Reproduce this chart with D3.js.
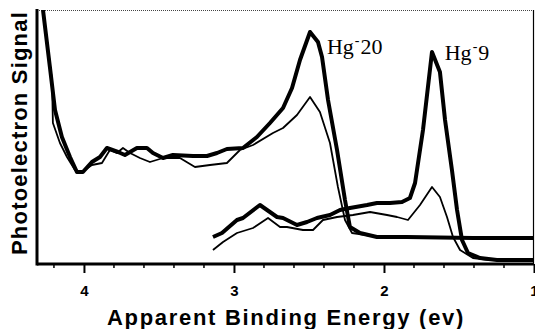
<!DOCTYPE html>
<html>
<head>
<meta charset="utf-8">
<script src="https://cdn.jsdelivr.net/npm/d3@7"></script>
<style>
  html, body { margin: 0; padding: 0; background: #fff; }
  svg { display: block; }
</style>
</head>
<body>
<div id="chart"></div>
<script>
// Binding energy (eV) and signal (arbitrary units)
const hg20BoldE = [4.273, 4.227, 4.193, 4.147, 4.093, 4.047, 4.007, 3.947, 3.893, 3.847, 3.773, 3.727, 3.647, 3.580, 3.540, 3.473, 3.407, 3.273, 3.180, 3.113, 3.047, 2.940, 2.847, 2.760, 2.673, 2.613, 2.560, 2.493, 2.440, 2.413, 2.373, 2.313, 2.260, 2.227, 2.160, 2.047, 1.847, 1.407, 1.0];
const hg20BoldS = [254, 197, 154, 127, 107, 92, 92, 102, 107, 116, 112, 109, 116, 116, 111, 106, 109, 108, 108, 111, 115, 116, 127, 141, 156, 176, 204, 232, 222, 207, 164, 114, 64, 37, 31, 27, 27, 26, 26];

const hg20ThinE = [4.273, 4.213, 4.207, 4.160, 4.113, 4.060, 4.013, 3.947, 3.880, 3.827, 3.780, 3.740, 3.693, 3.627, 3.560, 3.473, 3.360, 3.260, 3.160, 3.047, 2.960, 2.873, 2.740, 2.673, 2.580, 2.493, 2.427, 2.360, 2.307, 2.260, 2.213, 2.073, 1.847, 1.0];
const hg20ThinS = [254, 184, 141, 121, 107, 94, 92, 99, 101, 114, 111, 116, 111, 106, 102, 106, 106, 97, 99, 101, 114, 119, 131, 136, 149, 167, 152, 121, 77, 44, 31, 28, 27, 26];

const hg9BoldE = [3.140, 3.080, 2.980, 2.940, 2.827, 2.713, 2.673, 2.580, 2.513, 2.447, 2.360, 2.293, 2.227, 2.113, 2.047, 1.960, 1.880, 1.827, 1.793, 1.740, 1.680, 1.627, 1.593, 1.547, 1.513, 1.480, 1.440, 1.360, 1.247, 1.0];
const hg9BoldS = [27, 31, 44, 46, 59, 47, 46, 39, 42, 46, 49, 54, 56, 59, 61, 61, 62, 66, 81, 134, 212, 192, 144, 94, 54, 24, 11, 6, 4, 4];

const hg9ThinE = [3.140, 3.073, 2.980, 2.873, 2.773, 2.693, 2.647, 2.540, 2.473, 2.407, 2.313, 2.207, 2.093, 1.980, 1.913, 1.840, 1.760, 1.680, 1.627, 1.580, 1.540, 1.493, 1.407, 1.293, 1.0];
const hg9ThinS = [14, 22, 31, 36, 46, 37, 37, 34, 34, 44, 47, 49, 52, 49, 47, 44, 59, 77, 67, 47, 27, 14, 6, 4, 4];

const majorTicks = [4, 3, 2, 1];
const minorTicks = [4.2, 3.8, 3.6, 3.4, 3.2, 2.8, 2.6, 2.4, 2.2, 1.8, 1.6, 1.4, 1.2];

const labels = [
    { base: 'Hg', sup: '-', num: '20', e: 2.38, s: 210 },
    { base: 'Hg', sup: '-', num: '9', e: 1.595, s: 204 }
];

const width = 535, height = 329;
const margin = { top: 10, right: 1, bottom: 65, left: 37 };

const svg = d3.select('#chart')
    .append('svg')
    .attr('width', width)
    .attr('height', height);

const x = d3.scaleLinear()
    .domain([4.313, 1])
    .range([margin.left, width - margin.right]);

const y = d3.scaleLinear()
    .domain([0, 254])
    .range([height - margin.bottom, margin.top]);

svg.append('clipPath')
    .attr('id', 'plot-clip')
    .append('rect')
    .attr('x', margin.left)
    .attr('y', margin.top)
    .attr('width', width - margin.left - margin.right)
    .attr('height', height - margin.bottom - margin.top);

// frame: thin top and right
svg.append('line')
    .attr('x1', margin.left).attr('x2', width - margin.right)
    .attr('y1', margin.top + 0.5).attr('y2', margin.top + 0.5)
    .attr('stroke', '#444').attr('stroke-width', 1).attr('stroke-dasharray', '1,1');
svg.append('line')
    .attr('x1', width - margin.right - 0.5).attr('x2', width - margin.right - 0.5)
    .attr('y1', margin.top).attr('y2', height - margin.bottom)
    .attr('stroke', '#000').attr('stroke-width', 1.2);

const line = d3.line()
    .x(d => x(d[0]))
    .y(d => y(d[1]));

const series = [
    { e: hg20ThinE, s: hg20ThinS, w: 1.8 },
    { e: hg9ThinE, s: hg9ThinS, w: 1.8 },
    { e: hg20BoldE, s: hg20BoldS, w: 4 },
    { e: hg9BoldE, s: hg9BoldS, w: 4 }
];

const plot = svg.append('g').attr('clip-path', 'url(#plot-clip)');
series.forEach(sr => {
    plot.append('path')
        .datum(d3.zip(sr.e, sr.s))
        .attr('fill', 'none')
        .attr('stroke', '#000')
        .attr('stroke-width', sr.w)
        .attr('stroke-linejoin', 'round')
        .attr('d', line);
});

// bottom axis
const xAxis = svg.append('g')
    .attr('transform', `translate(0,${height - margin.bottom})`)
    .call(d3.axisBottom(x).tickValues(majorTicks).tickFormat(d3.format('d')).tickSize(9).tickPadding(12));
xAxis.select('.domain').attr('stroke-width', 3).attr('d', `M${margin.left},0H${width - margin.right}`);
xAxis.selectAll('.tick line').attr('stroke-width', 2);
xAxis.selectAll('.tick text')
    .attr('font-family', 'Liberation Sans, Arial, sans-serif')
    .attr('font-weight', 'bold')
    .attr('font-size', 15)
    .attr('fill', '#000');

svg.append('g')
    .attr('transform', `translate(0,${height - margin.bottom})`)
    .selectAll('line')
    .data(minorTicks)
    .enter()
    .append('line')
    .attr('x1', d => x(d)).attr('x2', d => x(d))
    .attr('y1', 0).attr('y2', 4)
    .attr('stroke', '#000').attr('stroke-width', 1.5);

// left axis
svg.append('line')
    .attr('x1', margin.left).attr('x2', margin.left)
    .attr('y1', margin.top - 1).attr('y2', height - margin.bottom + 1.5)
    .attr('stroke', '#000').attr('stroke-width', 3);

// axis titles
svg.append('text')
    .attr('x', 286)
    .attr('y', 325)
    .attr('text-anchor', 'middle')
    .attr('font-family', 'Liberation Sans, Arial, sans-serif')
    .attr('font-weight', 'bold')
    .attr('font-size', 22)
    .attr('letter-spacing', 1.7)
    .text('Apparent Binding Energy (ev)');

svg.append('text')
    .attr('transform', `translate(27,133) rotate(-90)`)
    .attr('text-anchor', 'middle')
    .attr('font-family', 'Liberation Sans, Arial, sans-serif')
    .attr('font-weight', 'bold')
    .attr('font-size', 22)
    .attr('letter-spacing', 1.2)
    .text('Photoelectron Signal');

// peak labels
labels.forEach(l => {
    const t = svg.append('text')
        .attr('x', x(l.e))
        .attr('y', y(l.s))
        .attr('font-family', 'Liberation Serif, Times New Roman, serif')
        .attr('font-size', 22)
        .attr('fill', '#000');
    t.append('tspan').text(l.base);
    t.append('tspan').attr('font-size', 14).attr('dy', -9).attr('dx', 1).text(l.sup);
    t.append('tspan').attr('dy', 9).attr('dx', 1).text(l.num);
});
</script>
</body>
</html>
